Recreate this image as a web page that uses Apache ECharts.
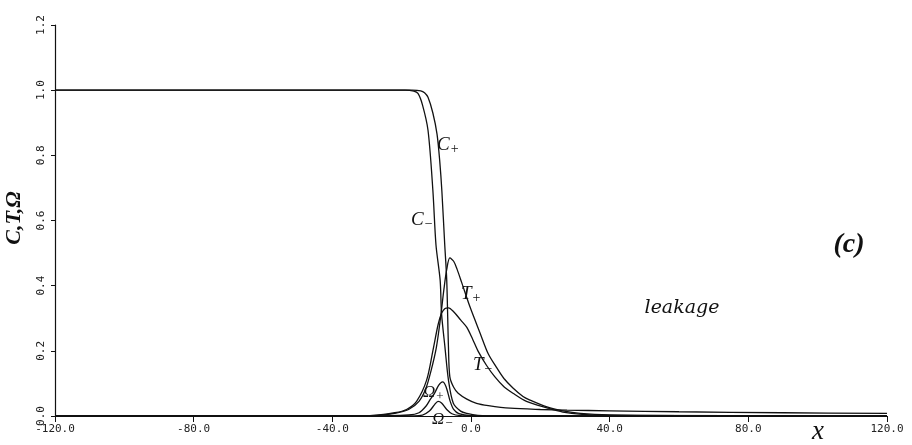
<!DOCTYPE html>
<html><head><meta charset="utf-8">
<script src="https://cdn.jsdelivr.net/npm/echarts@6/dist/echarts.min.js"></script>
<style>html,body{margin:0;padding:0;background:#fff}#c{width:912px;height:445px}</style>
</head><body><div id="c"></div>
<script>
// x tick labels and y tick labels
const xTicks = [-120, -80, -40, 0, 40, 80, 120];
const yTicks = [0, 0.2, 0.4, 0.6, 0.8, 1.0, 1.2];

// Series values [x, y]
const cPlus = [[-120,1],[-17,1],[-14.5,0.998],[-13.4,0.992],[-12.4,0.978],[-11,0.93],[-9.8,0.865],[-9,0.78],[-8.4,0.69],[-7.6,0.53],[-7,0.417],[-6.5,0.21],[-6.1,0.12],[-5,0.088],[-3.7,0.07],[-1.2,0.052],[1.6,0.039],[5,0.032],[11.3,0.024],[20,0.02],[27.7,0.018],[40,0.016],[60,0.013],[90,0.01],[120,0.008]];
const cMinus = [[-120,1],[-19,1],[-16.5,0.997],[-15.3,0.99],[-14,0.955],[-12.4,0.877],[-11,0.693],[-10.1,0.525],[-8.9,0.417],[-8.5,0.315],[-7.5,0.21],[-6.5,0.11],[-5.1,0.039],[-3,0.015],[-1.2,0.008],[2,0.002],[8,0],[120,0]];
const tPlus = [[-120,0],[-40,0],[-27,0.002],[-22,0.008],[-18,0.02],[-15,0.045],[-13,0.085],[-11.5,0.14],[-10,0.21],[-8.8,0.3],[-7.8,0.39],[-7,0.45],[-6.1,0.485],[-5,0.475],[-4,0.45],[-2.7,0.41],[-0.3,0.335],[2.6,0.255],[5,0.19],[7.3,0.15],[9.5,0.115],[12.1,0.086],[15,0.06],[17,0.049],[21.9,0.028],[26.5,0.016],[31.5,0.008],[40,0.003],[60,0.001],[120,0]];
const tMinus = [[-120,0],[-40,0],[-28,0.002],[-22,0.01],[-18.6,0.02],[-15.7,0.045],[-12.8,0.11],[-11,0.2],[-9.5,0.28],[-8.5,0.315],[-7.5,0.33],[-6.5,0.332],[-5,0.32],[-3,0.295],[-1.2,0.272],[0.5,0.235],[2,0.2],[4.5,0.155],[6.9,0.12],[9.5,0.09],[12.1,0.07],[16,0.045],[21.9,0.025],[26.5,0.012],[32,0.005],[40,0.002],[120,0]];
const omegaPlus = [[-120,0],[-30,0],[-18,0.003],[-15,0.01],[-13,0.03],[-11.8,0.05],[-10.5,0.07],[-9.3,0.095],[-8.2,0.105],[-7.2,0.09],[-6,0.045],[-5,0.02],[-3.5,0.007],[0,0.001],[10,0],[120,0]];
const omegaMinus = [[-120,0],[-20,0],[-14,0.003],[-12,0.015],[-10.5,0.035],[-9.5,0.045],[-8.5,0.04],[-7,0.02],[-5.5,0.007],[-3,0.001],[0,0],[120,0]];

const chart = echarts.init(document.getElementById('c'), null, {renderer: 'canvas'});
const line = (name, data) => ({
  name, type: 'line', data, showSymbol: false, symbol: 'none',
  smooth: 0.3,
  lineStyle: {color: '#111', width: 1.3}, silent: true, animation: false
});
const mono = 'DejaVu Sans Mono';
const serif = 'Liberation Serif';
const lab = (x, y, main, sub, size) => ({
  type: 'text', x, y, silent: true,
  style: {
    text: '{m|' + main + '}{s|' + sub + '}',
    rich: {
      m: {fontFamily: serif, fontStyle: 'italic', fontSize: size, fill: '#111'},
      s: {fontFamily: serif, fontSize: Math.round(size * 0.75), fill: '#111', verticalAlign: 'bottom', padding: [8, 0, 0, 1]}
    },
    verticalAlign: 'middle'
  }
});
chart.setOption({
  animation: false,
  backgroundColor: '#fff',
  grid: {left: 55, right: 25, top: 25, bottom: 29, containLabel: false},
  xAxis: {
    type: 'value', min: xTicks[0], max: xTicks[xTicks.length - 1], interval: 40,
    axisLine: {show: true, onZero: false, lineStyle: {color: '#111', width: 1.2}},
    axisTick: {show: true, inside: false, length: 6, lineStyle: {color: '#111'}},
    splitLine: {show: false},
    axisLabel: {fontFamily: mono, fontSize: 11, color: '#222', margin: 8,
      formatter: v => v.toFixed(1)}
  },
  yAxis: {
    type: 'value', min: yTicks[0], max: yTicks[yTicks.length - 1], interval: 0.2,
    axisLine: {show: true, onZero: false, lineStyle: {color: '#111', width: 1.2}},
    axisTick: {show: true, inside: false, length: 4, lineStyle: {color: '#111'}},
    splitLine: {show: false},
    axisLabel: {fontFamily: mono, fontSize: 11, color: '#222', rotate: 90, margin: 8,
      formatter: v => v.toFixed(1)}
  },
  series: [
    line('C+', cPlus), line('C-', cMinus), line('T+', tPlus), line('T-', tMinus),
    line('Ω+', omegaPlus), line('Ω-', omegaMinus)
  ],
  graphic: [
    {type: 'text', x: 14, y: 218, rotation: Math.PI / 2, silent: true,
      style: {text: 'C,T,Ω', fontFamily: serif, fontStyle: 'italic', fontWeight: 'bold', fontSize: 22, fill: '#111', align: 'center', verticalAlign: 'middle'}},
    {type: 'text', x: 818, y: 432, silent: true,
      style: {text: 'x', fontFamily: serif, fontStyle: 'italic', fontSize: 27, fill: '#111', align: 'center', verticalAlign: 'middle'}},
    {type: 'text', x: 849, y: 245, silent: true,
      style: {text: '(c)', fontFamily: serif, fontStyle: 'italic', fontWeight: 'bold', fontSize: 28, fill: '#111', align: 'center', verticalAlign: 'middle'}},
    {type: 'text', x: 682, y: 308, silent: true,
      style: {text: 'leakage', fontFamily: 'DejaVu Serif', fontStyle: 'italic', fontSize: 19, fill: '#111', align: 'center', verticalAlign: 'middle'}},
    lab(437, 145, 'C', '+', 19),
    lab(411, 220, 'C', '−', 19),
    lab(461, 294, 'T', '+', 19),
    lab(473, 365, 'T', '−', 19),
    lab(423, 393, 'Ω', '+', 17),
    lab(432, 420, 'Ω', '−', 17)
  ]
});
</script></body></html>
